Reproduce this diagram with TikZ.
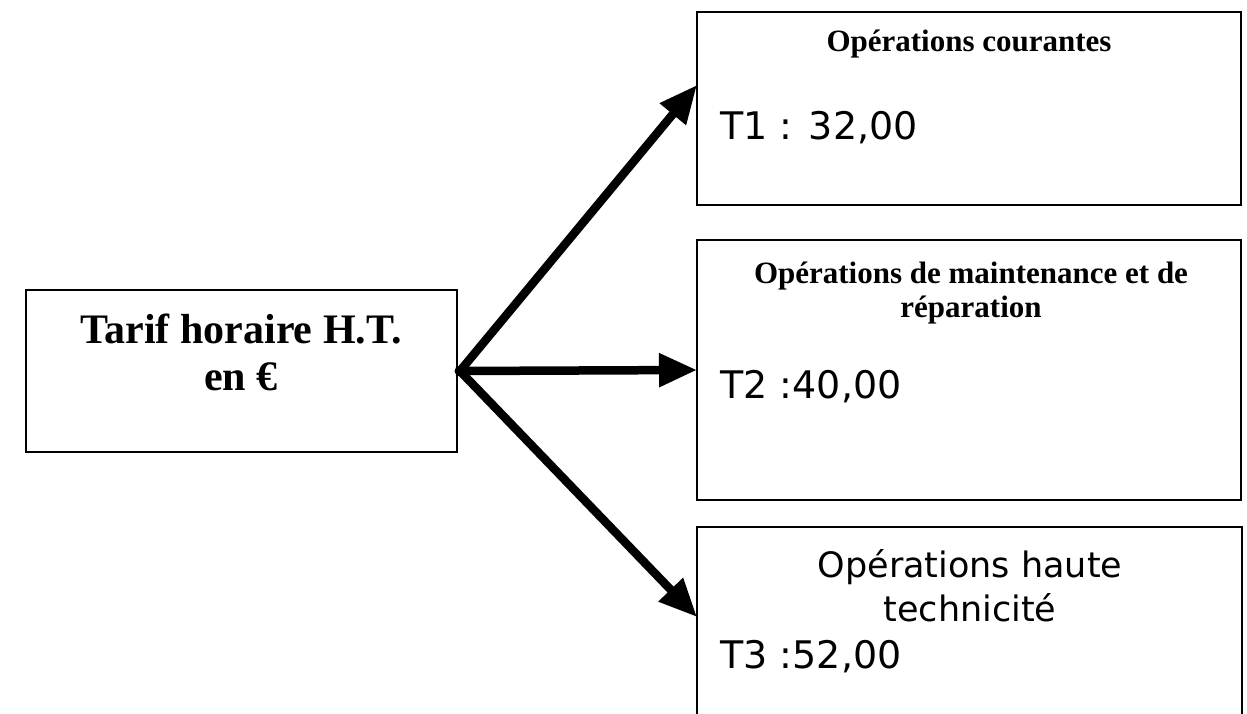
\documentclass[tikz,border=0pt]{standalone}
\usepackage{fontspec}
\setmainfont{Liberation Serif}
\newfontfamily\verdana{DejaVu Sans}
\usetikzlibrary{arrows.meta}

\tikzset{
  box/.style={draw, line width=2.5pt, rectangle, anchor=north west, inner sep=0pt, outer sep=0pt},
  titre/.style={anchor=base, align=center, font=\fontsize{31}{34}\selectfont\bfseries},
  tarifval/.style={anchor=base west, font=\verdana\fontsize{38}{44}\selectfont},
  arr/.style={line width=8.5pt, -{Triangle[length=38pt,width=32pt]}},
}

\begin{document}
\begin{tikzpicture}[x=1pt,y=-1pt]
    \useasboundingbox (0,0) rectangle (1247,714);
    \clip (0,0) rectangle (1247,714);
    \fill[white] (0,0) rectangle (1247,714);

    % Draw the boxes
    \node[box, minimum width=431pt, minimum height=162pt] (tarif) at (26,290) {};
    \node[box, minimum width=544pt, minimum height=193pt] (courantes) at (697,12) {};
    \node[box, minimum width=544pt, minimum height=260pt] (maint) at (697,240) {};
    \node[box, minimum width=545pt, minimum height=240pt] (haute) at (697,527) {};

    % Box texts (base = last line)
    \node[anchor=base, align=center, font=\fontsize{42}{47}\selectfont\bfseries] (tarifnom) at (241,390) {Tarif horaire H.T.\\en €};

    \node[titre] (titre1) at (969,52) {Opérations courantes};
    \node[tarifval] (t1) at (717,140) {T1 : 32,00};

    \node[titre] (titre2) at (971,317) {Opérations de maintenance et de\\réparation};
    \node[tarifval] (t2) at (717,398) {T2 :40,00};

    \node[anchor=base, align=center, font=\verdana\fontsize{35}{44}\selectfont] (titre3) at (970,621) {Opérations haute\\technicité};
    \node[tarifval] (t3) at (717,668) {T3 :52,00};

    % Arrows from the hub
    \coordinate (hub) at ([xshift=3pt]tarif.east);
    \fill (hub) circle (5.5pt);
    \draw[arr] (hub) -- ([yshift=-73pt]courantes.north west);
    \draw[arr] (hub) -- (maint.west);
    \draw[arr] (hub) -- ([yshift=-90pt]haute.north west);
\end{tikzpicture}
\end{document}
